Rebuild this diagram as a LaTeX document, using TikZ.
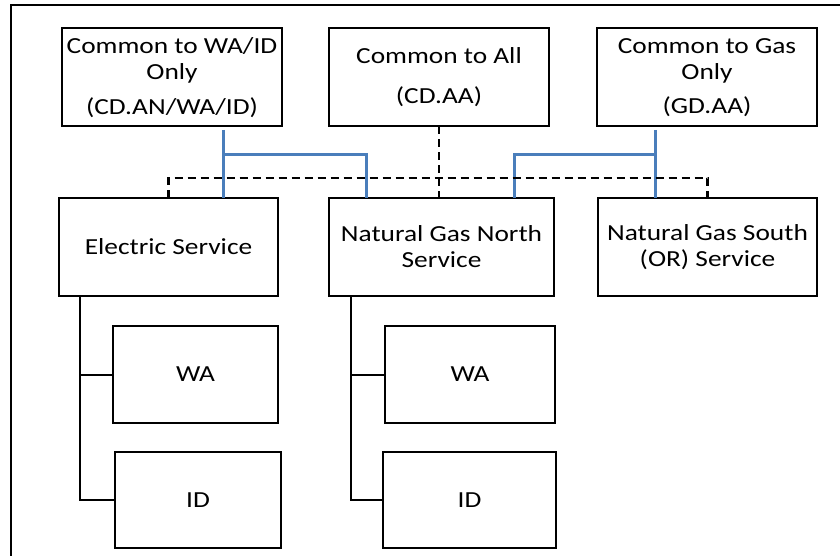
\documentclass[tikz,border=0pt]{standalone}
\usepackage{fontspec}
\setmainfont[FakeStretch=1.19]{Carlito}
\definecolor{lineblue}{HTML}{4A7EBB}
\begin{document}
\begin{tikzpicture}[x=1pt,y=-1pt,
  boxst/.style={draw=black, line width=2pt, fill=white, inner sep=0pt, outer sep=0pt,
    align=center, font=\fontsize{23}{26}\selectfont},
  blueline/.style={draw=lineblue, line width=3pt},
  dashline/.style={draw=black, line width=2.2pt, dash pattern=on 8pt off 5pt},
  treeline/.style={draw=black, line width=2pt},
  frameline/.style={draw=black, line width=1.5pt}]
\clip (0,0) rectangle (840,556);
\draw[frameline] (11,600) -- (11,5) -- (900,5);

% top row
\node[boxst, minimum width=220pt, minimum height=98pt] (cwa) at (172,77.5)
  {Common to WA/ID\\Only\\[9pt](CD.AN/WA/ID)};
\node[boxst, minimum width=220pt, minimum height=98pt] (call) at (439,77.5)
  {Common to All\\[14pt](CD.AA)};
\node[boxst, minimum width=220pt, minimum height=98pt] (cgas) at (707,77.5)
  {Common to Gas\\Only\\[8pt](GD.AA)};

% service row
\node[boxst, minimum width=219pt, minimum height=98pt] (elec) at (168.5,247)
  {Electric Service};
\node[boxst, minimum width=225pt, minimum height=98pt] (ngn) at (441.5,247)
  {Natural Gas North\\Service};
\node[boxst, minimum width=219pt, minimum height=98pt] (ngs) at (707.5,247)
  {Natural Gas South\\(OR) Service};

% state boxes
\node[boxst, minimum width=165pt, minimum height=97pt] (wa1) at (195.5,374.5) {WA};
\node[boxst, minimum width=166pt, minimum height=96pt] (id1) at (198,500) {ID};
\node[boxst, minimum width=170pt, minimum height=97pt] (wa2) at (470,374.5) {WA};
\node[boxst, minimum width=173pt, minimum height=96pt] (id2) at (469.5,500) {ID};

% blue connectors
\coordinate (bA) at (223,130);
\coordinate (bB) at (366,155);
\coordinate (bC) at (655,130);
\coordinate (bD) at (514,155);
\draw[blueline] (bA) -- (bA |- elec.north);
\draw[blueline] (bA |- bB) -| (bB |- ngn.north);
\draw[blueline] (bC) -- (bC |- ngs.north);
\draw[blueline] (bC |- bD) -| (bD |- ngn.north);

% dashed connectors
\coordinate (dh) at (0,178);
\draw[dashline] (call.south) -- (call.south |- ngn.north);
\draw[dashline] (elec.north) -- (elec.north |- dh) -- (ngs.north |- dh) -- (ngs.north);

% tree connectors
\coordinate (tl) at (80,0);
\coordinate (tr) at (351,0);
\draw[treeline] (elec.south -| tl) |- (id1.west);
\draw[treeline] (wa1.west -| tl) -- (wa1.west);
\draw[treeline] (ngn.south -| tr) |- (id2.west);
\draw[treeline] (wa2.west -| tr) -- (wa2.west);
\end{tikzpicture}
\end{document}
